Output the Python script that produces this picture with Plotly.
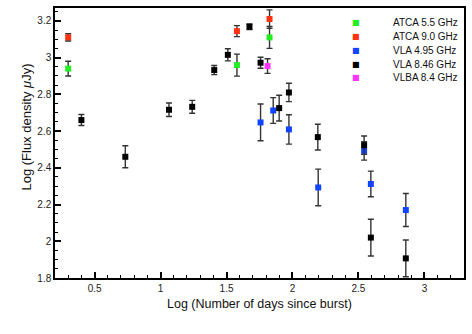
import plotly.graph_objects as go

# Radio light curve: log flux vs log days since burst
atca55_x = [0.30, 1.579, 1.826]
atca55_y = [2.94, 2.959, 3.11]
atca55_err = [0.04, 0.06, 0.06]

atca90_x = [0.30, 1.579, 1.826]
atca90_y = [3.11, 3.144, 3.21]
atca90_err = [0.02, 0.03, 0.05]

vla495_x = [1.758, 1.854, 1.973, 2.195, 2.543, 2.594, 2.859]
vla495_y = [2.647, 2.712, 2.609, 2.293, 2.492, 2.312, 2.17]
vla495_err = [0.10, 0.07, 0.08, 0.10, 0.05, 0.07, 0.09]

vla846_x = [0.40, 0.733, 1.064, 1.24, 1.407, 1.51, 1.674, 1.758, 1.899, 1.973,
            2.192, 2.543, 2.594, 2.859]
vla846_y = [2.66, 2.46, 2.716, 2.732, 2.932, 3.015, 3.168, 2.972, 2.725, 2.81,
            2.567, 2.523, 2.02, 1.907]
vla846_err = [0.03, 0.06, 0.037, 0.035, 0.025, 0.033, 0.015, 0.03, 0.07, 0.05,
              0.07, 0.05, 0.10, 0.10]

vlba84_x = [1.811]
vlba84_y = [2.954]
vlba84_err = [0.04]

names = ['ATCA 5.5 GHz', 'ATCA 9.0 GHz', 'VLA 4.95 GHz', 'VLA 8.46 GHz', 'VLBA 8.4 GHz']
colors = ['#22ee22', '#ff3311', '#1144ff', '#000000', '#ff33ff']

series = [
    (atca55_x, atca55_y, atca55_err),
    (atca90_x, atca90_y, atca90_err),
    (vla495_x, vla495_y, vla495_err),
    (vla846_x, vla846_y, vla846_err),
    (vlba84_x, vlba84_y, vlba84_err),
]

fig = go.Figure()

for (xs, ys, errs), name, color in zip(series, names, colors):
    fig.add_trace(go.Scatter(
        x=xs, y=ys, name=name, mode='markers',
        marker=dict(symbol='square', size=6, color=color),
        error_y=dict(type='data', array=errs, visible=True,
                     color='#333333', thickness=1.4, width=3),
        showlegend=False,
        cliponaxis=False,
    ))

# hand-made legend (compact rows like the original)
annotations = []
for i, (name, color) in enumerate(zip(names, colors)):
    row_y = 0.946 - i * 0.0513
    annotations.append(dict(x=0.737, y=row_y, xref='paper', yref='paper',
                            text='■', showarrow=False, xanchor='center', yanchor='middle',
                            font=dict(size=8, color=color, family='DejaVu Sans')))
    annotations.append(dict(x=0.822, y=row_y, xref='paper', yref='paper',
                            text=name, showarrow=False, xanchor='left', yanchor='middle',
                            font=dict(size=10, color='#111111')))

annotations.append(dict(x=0.5, y=-0.097, xref='paper', yref='paper',
                        text='Log (Number of days since burst)', showarrow=False,
                        xanchor='center', yanchor='middle', font=dict(size=12.5, color='#111111')))
annotations.append(dict(x=-0.069, y=0.56, xref='paper', yref='paper',
                        text='Log (Flux density <i>μ</i>Jy)', showarrow=False, textangle=-90,
                        xanchor='center', yanchor='middle', font=dict(size=13, color='#111111')))

axis_style = dict(
    showgrid=False, zeroline=False,
    showline=True, linecolor='black', linewidth=1.5, mirror=True,
    ticks='inside', ticklen=6, tickwidth=1.5, tickcolor='black',
    tickfont=dict(size=10, color='#222222'),
)

fig.update_xaxes(range=[0.2, 3.3], tick0=0.5, dtick=0.5,
                 minor=dict(dtick=0.1, ticks='inside', ticklen=3, tickcolor='black', tickwidth=1),
                 **axis_style)
fig.update_yaxes(range=[1.8, 3.27], tick0=1.8, dtick=0.2,
                 minor=dict(dtick=0.05, ticks='inside', ticklen=3, tickcolor='black', tickwidth=1),
                 **axis_style)

fig.update_layout(
    width=472, height=334,
    margin=dict(l=55, r=6, t=7, b=56),
    paper_bgcolor='white', plot_bgcolor='white',
    font=dict(family='Liberation Sans, Arial, sans-serif'),
    annotations=annotations,
)

# drop the browser's default body margin so the figure sits at the page corner
fig.write_html("out.html", config={'displayModeBar': False},
               post_script="document.body.style.margin = '0';")
